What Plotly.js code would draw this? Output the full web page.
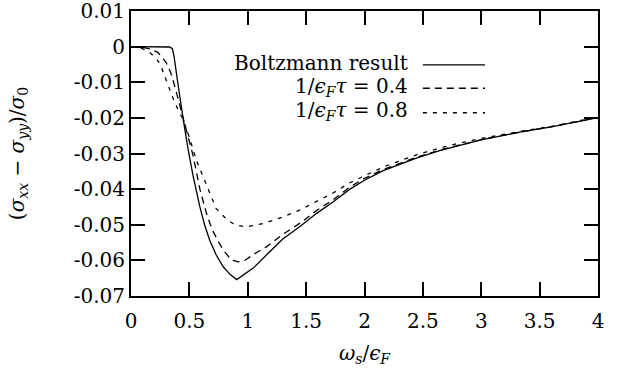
<!DOCTYPE html>
<html>
<head>
<meta charset="utf-8">
<script src="https://cdn.plot.ly/plotly-3.0.1.min.js"></script>
<style>html,body{margin:0;padding:0;background:#fff;}#chart{width:627px;height:376px;}</style>
</head>
<body>
<div id="chart"></div>
<script>
// Boltzmann result (solid)
const boltzX = [0, 0.1, 0.2, 0.3, 0.33, 0.355, 0.37, 0.40, 0.42, 0.45, 0.49, 0.53, 0.59, 0.63, 0.676, 0.73, 0.79, 0.85, 0.905, 0.96, 1.05, 1.175, 1.3, 1.45, 1.59, 1.73, 1.875, 2.0, 2.16, 2.45, 2.65, 3.0, 3.33, 3.6, 4.0];
const boltzY = [0, 0, 0, 0, -0.0001, -0.0006, -0.003, -0.0100, -0.0148, -0.021, -0.029, -0.036, -0.045, -0.050, -0.0545, -0.0585, -0.0618, -0.0640, -0.0654, -0.0642, -0.0621, -0.0580, -0.0540, -0.0504, -0.0468, -0.0436, -0.0400, -0.0375, -0.0348, -0.0312, -0.0291, -0.0262, -0.0240, -0.0225, -0.0199];
// 1/eps_F tau = 0.4 (dashed)
const tau04X = [0, 0.1, 0.16, 0.23, 0.30, 0.34, 0.374, 0.41, 0.44, 0.48, 0.535, 0.59, 0.648, 0.68, 0.705, 0.75, 0.79, 0.86, 0.92, 0.98, 1.05, 1.16, 1.3, 1.45, 1.59, 1.73, 1.875, 2.0, 2.16, 2.45, 2.65, 3.0, 3.33, 3.6, 4.0];
const tau04Y = [0, -0.0002, -0.0006, -0.0016, -0.0044, -0.0073, -0.011, -0.0155, -0.0195, -0.0245, -0.031, -0.040, -0.047, -0.050, -0.052, -0.0548, -0.0571, -0.0599, -0.0604, -0.0599, -0.0583, -0.0562, -0.0527, -0.0495, -0.0460, -0.0430, -0.0394, -0.0370, -0.0345, -0.0310, -0.0290, -0.0261, -0.0240, -0.0225, -0.0199];
// 1/eps_F tau = 0.8 (short dashes)
const tau08X = [0, 0.05, 0.1, 0.16, 0.2, 0.245, 0.28, 0.317, 0.36, 0.40, 0.44, 0.49, 0.56, 0.59, 0.68, 0.73, 0.83, 0.9, 0.99, 1.13, 1.22, 1.3, 1.45, 1.59, 1.73, 1.875, 2.0, 2.16, 2.45, 2.73, 3.0, 3.33, 3.6, 4.0];
const tau08Y = [0, -0.0001, -0.0006, -0.0016, -0.0028, -0.0046, -0.0075, -0.0110, -0.0145, -0.0175, -0.0200, -0.0245, -0.0319, -0.0343, -0.0415, -0.0455, -0.0488, -0.0501, -0.0506, -0.0497, -0.0487, -0.0478, -0.0458, -0.0435, -0.0411, -0.0382, -0.0362, -0.0338, -0.0303, -0.0277, -0.0258, -0.0238, -0.0224, -0.0198];

const seriesNames = ['Boltzmann result', '1/<i>ϵ<sub>F</sub>τ</i> = 0.4', '1/<i>ϵ<sub>F</sub>τ</i> = 0.8'];
const xTickVals = [0, 0.5, 1, 1.5, 2, 2.5, 3, 3.5, 4];
const xTickText = ['0', '0.5', '1', '1.5', '2', '2.5', '3', '3.5', '4'];
const yTickVals = [0.01, 0, -0.01, -0.02, -0.03, -0.04, -0.05, -0.06, -0.07];
const yTickText = ['0.01', '0', '-0.01', '-0.02', '-0.03', '-0.04', '-0.05', '-0.06', '-0.07'];

const FONT = 'DejaVu Serif';
const dashes = ['solid', '7px,5px', '4px,6px'];
const xs = [boltzX, tau04X, tau08X];
const ys = [boltzY, tau04Y, tau08Y];

const traces = xs.map((x, i) => ({
  x: x, y: ys[i], type: 'scatter', mode: 'lines', name: seriesNames[i],
  line: {color: '#000', width: 1.3, dash: dashes[i]}, showlegend: false
}));

// Manual gnuplot-style legend (text right-aligned, sample to the right)
const legendTextY = [0.818, 0.733, 0.650];
const legendLineY = [0.811, 0.729, 0.643];
const annotations = seriesNames.map((n, i) => ({
  xref: 'paper', yref: 'paper', x: 0.598, y: legendTextY[i], xanchor: 'right', yanchor: 'middle',
  text: n, showarrow: false, font: {family: FONT, size: 20, color: '#000'}
}));
const shapes = dashes.map((d, i) => ({
  type: 'line', xref: 'paper', yref: 'paper', x0: 0.625, x1: 0.758, y0: legendLineY[i], y1: legendLineY[i],
  line: {color: '#000', width: 1.3, dash: d}
}));

const layout = {
  width: 627, height: 376,
  margin: {l: 131, r: 29, t: 11, b: 80},
  paper_bgcolor: '#fff', plot_bgcolor: '#fff',
  font: {family: FONT, size: 20, color: '#000'},
  showlegend: false,
  xaxis: {
    range: [0, 4], tickvals: xTickVals, ticktext: xTickText,
    ticks: 'inside', ticklen: 14, tickwidth: 2, tickcolor: '#000',
    showline: true, linewidth: 2, linecolor: '#000', mirror: 'ticks',
    showgrid: false, zeroline: false, ticklabelstandoff: 6, ticklabeloverflow: 'allow',
    tickfont: {family: FONT, size: 20},
    title: {text: '<i>ω<sub>s</sub></i>/<i>ϵ<sub>F</sub></i>', font: {family: FONT, size: 20}, standoff: 14}
  },
  yaxis: {
    range: [-0.07, 0.01], tickvals: yTickVals, ticktext: yTickText,
    ticks: 'inside', ticklen: 14, tickwidth: 2, tickcolor: '#000',
    showline: true, linewidth: 2, linecolor: '#000', mirror: 'ticks',
    showgrid: false, zeroline: false, ticklabeloverflow: 'allow',
    tickfont: {family: FONT, size: 20},
    title: {text: '(<i>σ<sub>xx</sub></i> − <i>σ<sub>yy</sub></i>)/<i>σ</i><sub>0</sub>', font: {family: FONT, size: 20}, standoff: 44}
  },
  annotations: annotations,
  shapes: shapes
};

Plotly.newPlot('chart', traces, layout, {staticPlot: true, displayModeBar: false});
</script>
</body>
</html>
